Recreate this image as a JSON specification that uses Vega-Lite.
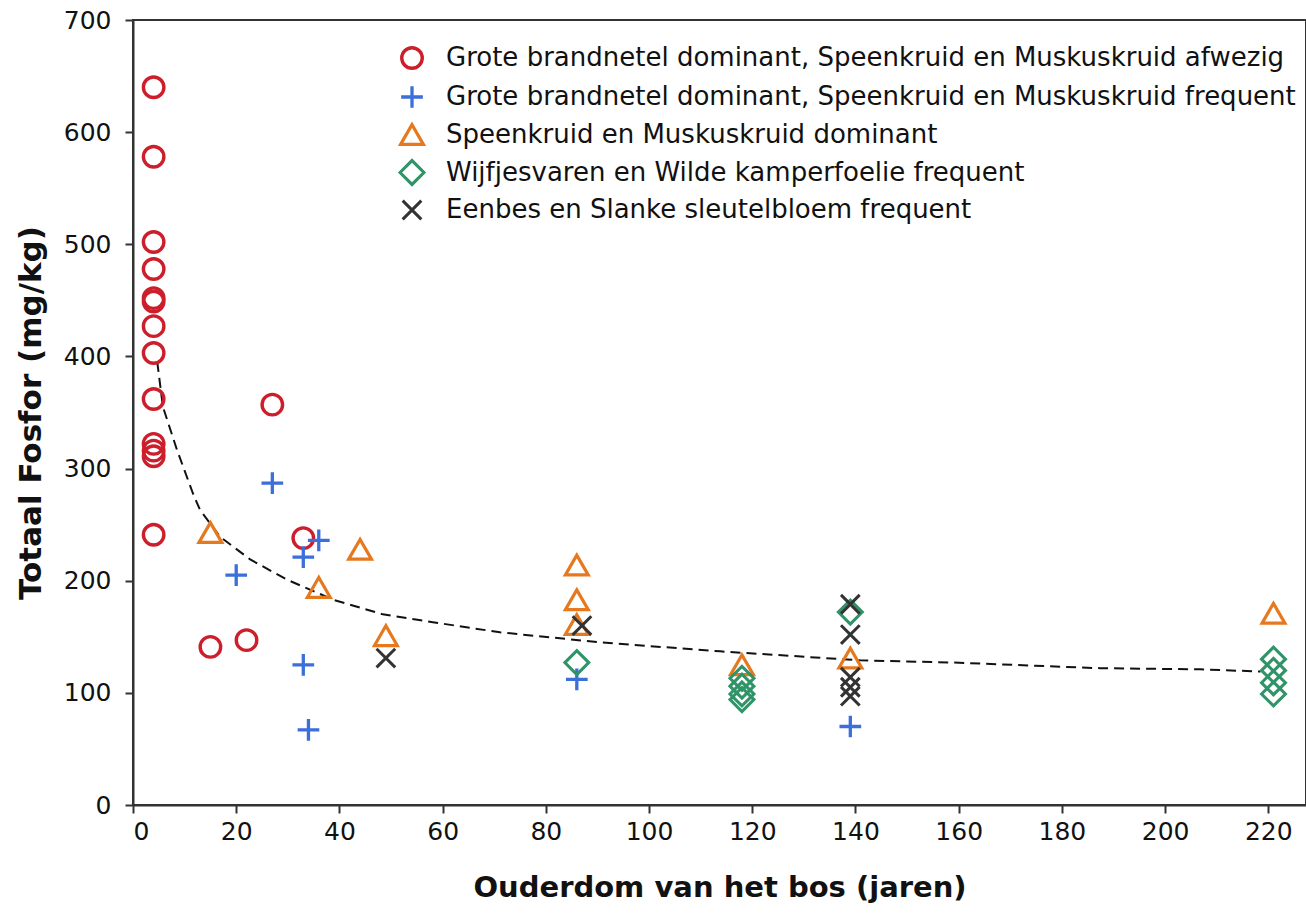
{
  "$schema": "https://vega.github.io/schema/vega-lite/v6.json",
  "width": 1173,
  "height": 785,
  "autosize": "none",
  "padding": {"left": 133, "top": 20, "right": 0, "bottom": 109},
  "background": "white",
  "config": {
    "view": {"stroke": "#333", "strokeWidth": 2},
    "font": "DejaVu Sans",
    "axis": {"grid": false, "domainColor": "#333", "domainWidth": 2, "tickColor": "#333", "tickWidth": 2, "tickSize": 8, "labelFont": "DejaVu Sans", "labelFontSize": 25, "labelColor": "#111", "titleFont": "DejaVu Sans", "titleFontWeight": "bold", "titleColor": "#111"}
  },
  "datasets": {
    "pts": [
      {"age": 4, "P": 640, "g": "Grote brandnetel dominant, Speenkruid en Muskuskruid afwezig"},
      {"age": 4, "P": 578, "g": "Grote brandnetel dominant, Speenkruid en Muskuskruid afwezig"},
      {"age": 4, "P": 502, "g": "Grote brandnetel dominant, Speenkruid en Muskuskruid afwezig"},
      {"age": 4, "P": 478, "g": "Grote brandnetel dominant, Speenkruid en Muskuskruid afwezig"},
      {"age": 4, "P": 452, "g": "Grote brandnetel dominant, Speenkruid en Muskuskruid afwezig"},
      {"age": 4, "P": 449, "g": "Grote brandnetel dominant, Speenkruid en Muskuskruid afwezig"},
      {"age": 4, "P": 427, "g": "Grote brandnetel dominant, Speenkruid en Muskuskruid afwezig"},
      {"age": 4, "P": 403, "g": "Grote brandnetel dominant, Speenkruid en Muskuskruid afwezig"},
      {"age": 4, "P": 362, "g": "Grote brandnetel dominant, Speenkruid en Muskuskruid afwezig"},
      {"age": 4, "P": 322, "g": "Grote brandnetel dominant, Speenkruid en Muskuskruid afwezig"},
      {"age": 4, "P": 316, "g": "Grote brandnetel dominant, Speenkruid en Muskuskruid afwezig"},
      {"age": 4, "P": 311, "g": "Grote brandnetel dominant, Speenkruid en Muskuskruid afwezig"},
      {"age": 4, "P": 241, "g": "Grote brandnetel dominant, Speenkruid en Muskuskruid afwezig"},
      {"age": 27, "P": 357, "g": "Grote brandnetel dominant, Speenkruid en Muskuskruid afwezig"},
      {"age": 33, "P": 238, "g": "Grote brandnetel dominant, Speenkruid en Muskuskruid afwezig"},
      {"age": 15, "P": 141, "g": "Grote brandnetel dominant, Speenkruid en Muskuskruid afwezig"},
      {"age": 22, "P": 147, "g": "Grote brandnetel dominant, Speenkruid en Muskuskruid afwezig"},
      {"age": 27, "P": 287, "g": "Grote brandnetel dominant, Speenkruid en Muskuskruid frequent"},
      {"age": 20, "P": 205, "g": "Grote brandnetel dominant, Speenkruid en Muskuskruid frequent"},
      {"age": 36, "P": 236, "g": "Grote brandnetel dominant, Speenkruid en Muskuskruid frequent"},
      {"age": 33, "P": 221, "g": "Grote brandnetel dominant, Speenkruid en Muskuskruid frequent"},
      {"age": 33, "P": 125, "g": "Grote brandnetel dominant, Speenkruid en Muskuskruid frequent"},
      {"age": 34, "P": 67, "g": "Grote brandnetel dominant, Speenkruid en Muskuskruid frequent"},
      {"age": 86, "P": 112, "g": "Grote brandnetel dominant, Speenkruid en Muskuskruid frequent"},
      {"age": 139, "P": 70, "g": "Grote brandnetel dominant, Speenkruid en Muskuskruid frequent"},
      {"age": 15, "P": 243, "g": "Speenkruid en Muskuskruid dominant"},
      {"age": 36, "P": 194, "g": "Speenkruid en Muskuskruid dominant"},
      {"age": 44, "P": 228, "g": "Speenkruid en Muskuskruid dominant"},
      {"age": 49, "P": 151, "g": "Speenkruid en Muskuskruid dominant"},
      {"age": 86, "P": 214, "g": "Speenkruid en Muskuskruid dominant"},
      {"age": 86, "P": 183, "g": "Speenkruid en Muskuskruid dominant"},
      {"age": 86, "P": 161, "g": "Speenkruid en Muskuskruid dominant"},
      {"age": 118, "P": 125, "g": "Speenkruid en Muskuskruid dominant"},
      {"age": 139, "P": 131, "g": "Speenkruid en Muskuskruid dominant"},
      {"age": 221, "P": 171, "g": "Speenkruid en Muskuskruid dominant"},
      {"age": 86, "P": 127, "g": "Wijfjesvaren en Wilde kamperfoelie frequent"},
      {"age": 118, "P": 113, "g": "Wijfjesvaren en Wilde kamperfoelie frequent"},
      {"age": 118, "P": 106, "g": "Wijfjesvaren en Wilde kamperfoelie frequent"},
      {"age": 118, "P": 99, "g": "Wijfjesvaren en Wilde kamperfoelie frequent"},
      {"age": 118, "P": 94, "g": "Wijfjesvaren en Wilde kamperfoelie frequent"},
      {"age": 139, "P": 172, "g": "Wijfjesvaren en Wilde kamperfoelie frequent"},
      {"age": 221, "P": 130, "g": "Wijfjesvaren en Wilde kamperfoelie frequent"},
      {"age": 221, "P": 120, "g": "Wijfjesvaren en Wilde kamperfoelie frequent"},
      {"age": 221, "P": 109, "g": "Wijfjesvaren en Wilde kamperfoelie frequent"},
      {"age": 221, "P": 99, "g": "Wijfjesvaren en Wilde kamperfoelie frequent"},
      {"age": 49, "P": 131, "g": "Eenbes en Slanke sleutelbloem frequent"},
      {"age": 87, "P": 160, "g": "Eenbes en Slanke sleutelbloem frequent"},
      {"age": 139, "P": 179, "g": "Eenbes en Slanke sleutelbloem frequent"},
      {"age": 139, "P": 152, "g": "Eenbes en Slanke sleutelbloem frequent"},
      {"age": 139, "P": 114, "g": "Eenbes en Slanke sleutelbloem frequent"},
      {"age": 139, "P": 105, "g": "Eenbes en Slanke sleutelbloem frequent"},
      {"age": 139, "P": 97, "g": "Eenbes en Slanke sleutelbloem frequent"}
    ],
    "fit": [
      {"age": 4.7, "P": 395},
      {"age": 5.8, "P": 355},
      {"age": 8.5, "P": 317},
      {"age": 11.6, "P": 278},
      {"age": 13.0, "P": 263},
      {"age": 16.9, "P": 239},
      {"age": 22.7, "P": 219},
      {"age": 29.8, "P": 201},
      {"age": 38.8, "P": 183},
      {"age": 48.4, "P": 170},
      {"age": 58.1, "P": 163},
      {"age": 71.1, "P": 154},
      {"age": 90.5, "P": 145},
      {"age": 113.8, "P": 137},
      {"age": 140.9, "P": 129},
      {"age": 158.9, "P": 127},
      {"age": 187.4, "P": 122},
      {"age": 206.8, "P": 121},
      {"age": 218.5, "P": 119}
    ]
  },
  "layer": [
    {
      "data": {"name": "fit"},
      "mark": {"type": "line", "color": "#111", "strokeWidth": 2, "strokeDash": [10, 6]},
      "encoding": {
        "x": {"field": "age", "type": "quantitative"},
        "y": {"field": "P", "type": "quantitative"}
      }
    },
    {
      "data": {"name": "pts"},
      "mark": {"type": "point", "filled": false, "opacity": 1},
      "encoding": {
        "x": {"field": "age", "type": "quantitative", "title": "Ouderdom van het bos (jaren)",
              "scale": {"domain": [0, 227.3], "nice": false, "zero": false},
              "axis": {"values": [0, 20, 40, 60, 80, 100, 120, 140, 160, 180, 200, 220], "titlePadding": 29, "titleFontSize": 29, "labelPadding": 6}},
        "y": {"field": "P", "type": "quantitative", "title": "Totaal Fosfor (mg/kg)",
              "scale": {"domain": [0, 700], "nice": false},
              "axis": {"values": [0, 100, 200, 300, 400, 500, 600, 700], "titlePadding": 16, "titleFontSize": 31, "labelPadding": 14}},
        "color": {"field": "g", "type": "nominal", "sort": null,
                  "scale": {"domain": ["Grote brandnetel dominant, Speenkruid en Muskuskruid afwezig", "Grote brandnetel dominant, Speenkruid en Muskuskruid frequent", "Speenkruid en Muskuskruid dominant", "Wijfjesvaren en Wilde kamperfoelie frequent", "Eenbes en Slanke sleutelbloem frequent"],
                            "range": ["#cc1f2b", "#3b6fd9", "#e6781e", "#2f9468", "#333333"]},
                  "legend": {"title": null, "orient": "none", "legendX": 265, "legendY": 25, "labelFontSize": 26, "labelFont": "DejaVu Sans", "labelColor": "#111", "rowPadding": 3, "symbolSize": 380, "symbolStrokeWidth": 3, "labelOffset": 20, "labelLimit": 1100}},
        "shape": {"field": "g", "type": "nominal",
                  "scale": {"domain": ["Grote brandnetel dominant, Speenkruid en Muskuskruid afwezig", "Grote brandnetel dominant, Speenkruid en Muskuskruid frequent", "Speenkruid en Muskuskruid dominant", "Wijfjesvaren en Wilde kamperfoelie frequent", "Eenbes en Slanke sleutelbloem frequent"],
                            "range": ["circle", "M-1,0L1,0M0,-1L0,1", "triangle-up", "diamond", "M-0.75,-0.75L0.75,0.75M-0.75,0.75L0.75,-0.75"]},
                  "legend": null},
        "size": {"field": "g", "type": "nominal",
                 "scale": {"domain": ["Grote brandnetel dominant, Speenkruid en Muskuskruid afwezig", "Grote brandnetel dominant, Speenkruid en Muskuskruid frequent", "Speenkruid en Muskuskruid dominant", "Wijfjesvaren en Wilde kamperfoelie frequent", "Eenbes en Slanke sleutelbloem frequent"],
                           "range": [420, 620, 520, 480, 500]},
                 "legend": null},
        "strokeWidth": {"field": "g", "type": "nominal",
                 "scale": {"domain": ["Grote brandnetel dominant, Speenkruid en Muskuskruid afwezig", "Grote brandnetel dominant, Speenkruid en Muskuskruid frequent", "Speenkruid en Muskuskruid dominant", "Wijfjesvaren en Wilde kamperfoelie frequent", "Eenbes en Slanke sleutelbloem frequent"],
                           "range": [3.4, 3, 3.6, 3.4, 1.6]},
                 "legend": null}
      }
    }
  ]
}
